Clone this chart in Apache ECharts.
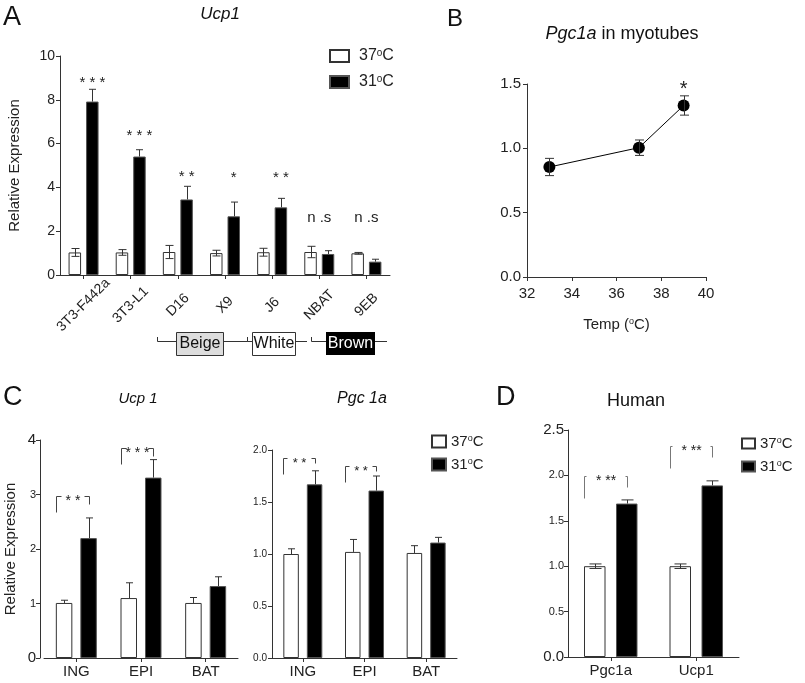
<!DOCTYPE html>
<html><head><meta charset="utf-8">
<script src="https://cdn.jsdelivr.net/npm/echarts@6/dist/echarts.min.js"></script>
<style>html,body{margin:0;padding:0;background:#fff}#c{width:805px;height:683px}</style>
</head><body><div id="c"></div>
<script>
// ---- Panel A data ----
const catsA = ['3T3-F442a','3T3-L1','D16','X9','J6','NBAT','9EB'];
const a37 = [1.03,1.03,1.05,1.0,1.04,1.05,0.99];
const a37err = [0.18,0.13,0.3,0.13,0.18,0.26,0.04];
const a31 = [7.92,5.41,3.45,2.68,3.09,0.96,0.61];
const a31err = [0.56,0.31,0.6,0.65,0.41,0.15,0.11];
const aSig = ['* * *','* * *','* *','*','* *','n .s','n .s'];
const aSigY = [8.77,6.35,4.47,4.43,4.43,2.6,2.6];
// ---- Panel B data ----
const bTemp = [33,37,39];
const bVal = [0.855,1.005,1.333];
const bErr = [0.067,0.06,0.075];
const bSig = ['','','*'];
const bSigY = [null,null,1.46];
// ---- Panel C data ----
const cCats = ['ING','EPI','BAT'];
const cUcp37 = [1.01,1.10,1.01];
const cUcp37err = [0.05,0.28,0.10];
const cUcp31 = [2.20,3.31,1.32];
const cUcp31err = [0.37,0.33,0.17];
const cUcpSig = ['* *','* * *',''];
const cUcpSigY = [2.97,3.85,null];
const cPgc37 = [1.0,1.02,1.01];
const cPgc37err = [0.05,0.12,0.07];
const cPgc31 = [1.67,1.61,1.11];
const cPgc31err = [0.13,0.14,0.05];
const cPgcSig = ['* *','* *',''];
const cPgcSigY = [1.92,1.85,null];
// ---- Panel D data ----
const dCats = ['Pgc1a','Ucp1'];
const d37 = [1.0,1.0];
const d37err = [0.025,0.025];
const d31 = [1.69,1.89];
const d31err = [0.04,0.05];
const dSig = ['* **','* **'];
const dSigY = [1.99,2.32];
// ---- tick labels ----
const yTicksA = [0,2,4,6,8,10];
const xTicksB = [32,34,36,38,40];

const FONT = 'Liberation Sans, Arial, sans-serif';
const AX = '#333';
const N37 = '37°C', N31 = '31°C';

// bar layout per panel: [barWidth, gapPx]
const layA = [12.5,5], layC1 = [16.5,8], layC2 = [15.5,8], layD = [21.5,10.5];
const off = l => (l[0]+l[1])/2;

function bars(xi, yi, lay, v37, v31) {
  const gap = (lay[1]/lay[0]*100)+'%';
  return [
    {type:'bar', name:N37, xAxisIndex:xi, yAxisIndex:yi, data:v37, barWidth:lay[0], barGap:gap,
     itemStyle:{color:'#fff', borderColor:'#333', borderWidth:1}},
    {type:'bar', name:N31, xAxisIndex:xi, yAxisIndex:yi, data:v31, barWidth:lay[0], barGap:gap,
     itemStyle:{color:'#000', borderColor:'#555', borderWidth:1}}
  ];
}
function errBars(xi, yi, xs, vals, errs, dx, cap, both) {
  return {type:'custom', xAxisIndex:xi, yAxisIndex:yi, z:5, silent:true,
    data: vals.map((v,i)=>[xs?xs[i]:i, v, errs[i]]),
    renderItem:(p,api)=>{
      const i=api.value(0), v=api.value(1), e=api.value(2);
      const base=api.coord([i,v]), t=api.coord([i,v+e]), b=api.coord([i,v-e]);
      const x=Math.round(base[0]+dx)+0.5;
      const st={stroke:'#333',lineWidth:1};
      const ch=[{type:'line',shape:{x1:x,y1:both?b[1]:base[1],x2:x,y2:t[1]},style:st},
                {type:'line',shape:{x1:x-cap/2,y1:t[1],x2:x+cap/2,y2:t[1]},style:st}];
      if(both) ch.push({type:'line',shape:{x1:x-cap/2,y1:b[1],x2:x+cap/2,y2:b[1]},style:st});
      return {type:'group',children:ch};
    }};
}
function starText(xi, yi, xs, texts, ys, dxFn, fs) {
  const data=[]; texts.forEach((t,i)=>{ if(t) data.push([xs?xs[i]:i, ys[i], i]); });
  return {type:'custom', xAxisIndex:xi, yAxisIndex:yi, z:6, silent:true, data,
    renderItem:(p,api)=>{
      const c=api.coord([api.value(0),api.value(1)]); const k=api.value(2);
      return {type:'text', style:{text:texts[k], x:c[0]+dxFn(texts[k]), y:c[1],
        align:'center', verticalAlign:'middle', font:fs+'px '+FONT, fill:'#222'}};
    }};
}
function brackets(xi, yi, texts, tops, dl, dr, ll, lr, hook, fs, color) {
  const data=[]; texts.forEach((t,i)=>{ if(t) data.push([i, tops[i], i]); });
  return {type:'custom', xAxisIndex:xi, yAxisIndex:yi, z:6, silent:true, data,
    renderItem:(p,api)=>{
      const c=api.coord([api.value(0),api.value(1)]); const k=api.value(2);
      const xl=Math.round(c[0]+dl)+0.5, xr=Math.round(c[0]+dr)+0.5, y=Math.round(c[1])+0.5;
      const st={stroke:color,lineWidth:1};
      return {type:'group',children:[
        {type:'line',shape:{x1:xl,y1:y,x2:xl,y2:y+ll},style:st},
        {type:'line',shape:{x1:xl,y1:y,x2:xl+hook,y2:y},style:st},
        {type:'line',shape:{x1:xr,y1:y,x2:xr,y2:y+lr},style:st},
        {type:'line',shape:{x1:xr-hook,y1:y,x2:xr,y2:y},style:st},
        {type:'text',style:{text:texts[k],x:(xl+xr)/2,y:y+5,align:'center',verticalAlign:'middle',
          font:fs+'px '+FONT,fill:'#222'}}
      ]};
    }};
}
const axLine = {show:true, lineStyle:{color:AX, width:1}};
const axTick = {show:true, length:4, lineStyle:{color:AX}};
function catX(gi, data, fs, extra) {
  return Object.assign({gridIndex:gi, type:'category', data, axisLine:axLine,
    axisTick:Object.assign({alignWithLabel:true}, axTick),
    axisLabel:{fontSize:fs, color:'#222', margin:6}}, extra||{});
}

const legendFmt = n => '{f|'+n.replace('°C','')+'}{s|o}{t|C}';
function legend(left, top, iw, ih, gap, fs, pad) {
  return {data:[N37,N31], orient:'vertical', left, top, padding:0, icon:'rect',
    itemWidth:iw, itemHeight:ih, itemGap:gap,
    formatter:legendFmt, selectedMode:false,
    textStyle:{rich:{
      f:{fontSize:fs, color:'#222', fontFamily:FONT, padding:[0,0,0,pad]},
      t:{fontSize:fs, color:'#222', fontFamily:FONT},
      s:{fontSize:Math.round(fs*0.6), color:'#222', verticalAlign:'top', fontFamily:FONT}}}};
}

const option = {
  animation:false,
  textStyle:{fontFamily:FONT},
  grid:[
    {left:60, top:56, width:330, height:219},
    {left:527, top:84, width:179, height:193},
    {left:44, top:440, width:194, height:218},
    {left:272, top:450, width:185, height:208},
    {left:568, top:430, width:171, height:227}
  ],
  legend:[legend(329,48,19,12,10,16,5), legend(431,434,14,12,8,15,0), legend(741,436,13,10,8,15,0)],
  xAxis:[
    catX(0, catsA, 14, {axisLabel:{rotate:45, align:'center', verticalAlign:'middle', fontSize:14, color:'#222', margin:30}}),
    {gridIndex:1, type:'value', min:xTicksB[0], max:xTicksB[xTicksB.length-1], interval:2,
     axisLine:axLine, axisTick:axTick, splitLine:{show:false},
     axisLabel:{fontSize:15, color:'#222', margin:9},
     name:'{t|Temp (}{s|o}{t|C)}', nameLocation:'middle', nameGap:40,
     nameTextStyle:{rich:{t:{fontSize:15,color:'#222'}, s:{fontSize:9,color:'#222',verticalAlign:'top'}}}},
    catX(2, cCats, 15),
    catX(3, cCats, 15),
    catX(4, dCats, 15)
  ],
  yAxis:[
    {gridIndex:0, type:'value', min:yTicksA[0], max:yTicksA[yTicksA.length-1], interval:2,
     axisLine:axLine, axisTick:axTick, splitLine:{show:false},
     axisLabel:{fontSize:14, color:'#222', margin:5},
     name:'Relative Expression', nameLocation:'middle', nameGap:38, nameTextStyle:{fontSize:15, color:'#222'}},
    {gridIndex:1, type:'value', min:0, max:1.5, interval:0.5,
     axisLine:axLine, axisTick:axTick, splitLine:{show:false},
     axisLabel:{fontSize:15, color:'#222', margin:6, formatter:v=>v.toFixed(1)}},
    {gridIndex:2, type:'value', min:0, max:4, interval:1, offset:4,
     axisLine:axLine, axisTick:axTick, splitLine:{show:false},
     axisLabel:{color:'#222', margin:4, formatter:v=>(v===0||v===4?'{b|':'{s|')+v+'}',
       rich:{b:{fontSize:15,color:'#222'}, s:{fontSize:11,color:'#222'}}},
     name:'Relative Expression', nameLocation:'middle', nameGap:22, nameTextStyle:{fontSize:15, color:'#222'}},
    {gridIndex:3, type:'value', min:0, max:2, interval:0.5,
     axisLine:axLine, axisTick:axTick, splitLine:{show:false},
     axisLabel:{fontSize:10, color:'#222', margin:5, formatter:v=>v.toFixed(1)}},
    {gridIndex:4, type:'value', min:0, max:2.5, interval:0.5,
     axisLine:axLine, axisTick:axTick, splitLine:{show:false},
     axisLabel:{color:'#222', margin:4, formatter:v=>(v===0||v===2.5?'{b|':'{s|')+v.toFixed(1)+'}',
       rich:{b:{fontSize:15,color:'#222'}, s:{fontSize:11,color:'#222'}}}}
  ],
  series:[
    ...bars(0,0,layA,a37,a31),
    errBars(0,0,null,a37,a37err,-off(layA),8,true),
    errBars(0,0,null,a31,a31err,off(layA),7,false),
    starText(0,0,null,aSig,aSigY,t=>t.startsWith('n')?0:off(layA),15),
    {type:'line', xAxisIndex:1, yAxisIndex:1, data:bTemp.map((t,i)=>[t,bVal[i]]),
     symbol:'circle', symbolSize:12, itemStyle:{color:'#000'}, lineStyle:{color:'#000',width:1}, z:4},
    errBars(1,1,bTemp,bVal,bErr,0,9,true),
    starText(1,1,bTemp,bSig,bSigY,()=>0,20),
    ...bars(2,2,layC1,cUcp37,cUcp31),
    errBars(2,2,null,cUcp37,cUcp37err,-off(layC1),7,false),
    errBars(2,2,null,cUcp31,cUcp31err,off(layC1),7,false),
    brackets(2,2,cUcpSig,cUcpSigY,-(off(layC1)+layC1[0]/2),off(layC1),16,8,5,14,'#444'),
    ...bars(3,3,layC2,cPgc37,cPgc31),
    errBars(3,3,null,cPgc37,cPgc37err,-off(layC2),7,false),
    errBars(3,3,null,cPgc31,cPgc31err,off(layC2),7,false),
    brackets(3,3,cPgcSig,cPgcSigY,-(off(layC2)+layC2[0]/2),off(layC2),16,5,4,13,'#444'),
    ...bars(4,4,layD,d37,d31),
    errBars(4,4,null,d37,d37err,-off(layD),12,true),
    errBars(4,4,null,d31,d31err,off(layD),12,false),
    brackets(4,4,dSig,dSigY,-(off(layD)+layD[0]/2),off(layD),22,11,2,14,'#777')
  ],
  graphic:[
    {type:'text', left:3, top:4, style:{text:'A', font:'27px '+FONT, fill:'#111'}},
    {type:'text', left:447, top:7, style:{text:'B', font:'24px '+FONT, fill:'#111'}},
    {type:'text', left:3, top:384, style:{text:'C', font:'27px '+FONT, fill:'#111'}},
    {type:'text', left:496, top:384, style:{text:'D', font:'27px '+FONT, fill:'#111'}},
    {type:'text', x:220, y:14, style:{text:'Ucp1', font:'italic 17px '+FONT, fill:'#111', align:'center', verticalAlign:'middle'}},
    {type:'text', x:622, y:34, style:{text:'{i|Pgc1a} in myotubes', font:'18px '+FONT, fill:'#111', align:'center', verticalAlign:'middle',
      rich:{i:{fontStyle:'italic', fontSize:18, fontFamily:FONT}}}},
    {type:'text', x:138, y:399, style:{text:'Ucp 1', font:'italic 15px '+FONT, fill:'#111', align:'center', verticalAlign:'middle'}},
    {type:'text', x:362, y:399, style:{text:'Pgc 1a', font:'italic 16px '+FONT, fill:'#111', align:'center', verticalAlign:'middle'}},
    {type:'text', x:636, y:401, style:{text:'Human', font:'18px '+FONT, fill:'#111', align:'center', verticalAlign:'middle'}},
    // group labels for panel A
    {type:'polyline', shape:{points:[[157.5,337],[157.5,341.5],[176,341.5]]}, style:{stroke:'#333',fill:null}},
    {type:'rect', shape:{x:176.5,y:332.5,width:47,height:23}, style:{fill:'#ddd',stroke:'#333'}},
    {type:'text', x:200, y:344, style:{text:'Beige', font:'16px '+FONT, fill:'#111', align:'center', verticalAlign:'middle'}},
    {type:'polyline', shape:{points:[[223.5,341.5],[247.5,341.5],[247.5,337],[247.5,341.5],[252,341.5]]}, style:{stroke:'#333',fill:null}},
    {type:'rect', shape:{x:252.5,y:332.5,width:43,height:23}, style:{fill:'#fff',stroke:'#333'}},
    {type:'text', x:274, y:344, style:{text:'White', font:'16px '+FONT, fill:'#111', align:'center', verticalAlign:'middle'}},
    {type:'polyline', shape:{points:[[295.5,341.5],[307,341.5]]}, style:{stroke:'#333',fill:null}},
    {type:'polyline', shape:{points:[[311.5,337],[311.5,341.5],[326,341.5]]}, style:{stroke:'#333',fill:null}},
    {type:'rect', shape:{x:326,y:332,width:49,height:23}, style:{fill:'#000'}},
    {type:'text', x:350.5, y:344, style:{text:'Brown', font:'16px '+FONT, fill:'#fff', align:'center', verticalAlign:'middle'}},
    {type:'polyline', shape:{points:[[375,341.5],[387,341.5]]}, style:{stroke:'#333',fill:null}}
  ]
};
const chart = echarts.init(document.getElementById('c'), null, {renderer:'canvas'});
chart.setOption(option);
</script></body></html>
